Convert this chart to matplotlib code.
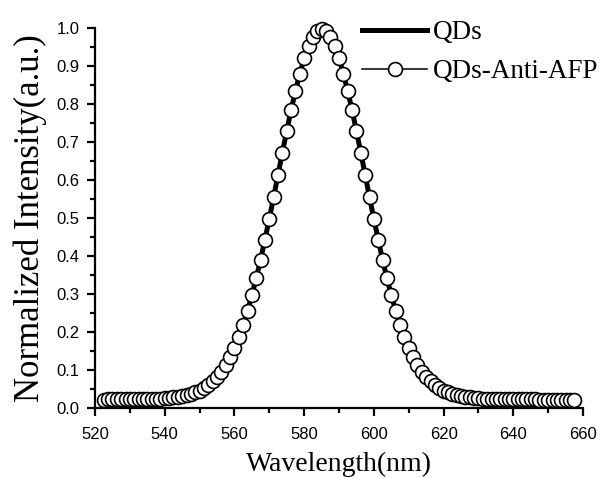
import numpy as np
import matplotlib
matplotlib.use("Agg")
import matplotlib.pyplot as plt
from matplotlib.ticker import MultipleLocator

# Sampling grid of the spectra (nm), 1.25 nm steps
wl_start = 522.5
wl_step = 1.25

# QDs-Anti-AFP normalized intensity
anti_afp = [
    0.022, 0.0224, 0.0225, 0.0226, 0.0228, 0.0229, 0.023, 0.0232, 0.0234, 0.0236,
    0.024, 0.0243, 0.025, 0.025, 0.026, 0.027, 0.028, 0.030, 0.031, 0.034,
    0.037, 0.041, 0.046, 0.052, 0.060, 0.070, 0.082, 0.096, 0.114, 0.134,
    0.158, 0.187, 0.219, 0.256, 0.297, 0.342, 0.390, 0.443, 0.498, 0.555,
    0.614, 0.672, 0.729, 0.784, 0.834, 0.880, 0.920, 0.952, 0.976, 0.992,
    0.998,
    0.992, 0.976, 0.952, 0.920, 0.880, 0.834, 0.784, 0.729, 0.672, 0.614,
    0.555, 0.498, 0.443, 0.390, 0.342, 0.297, 0.256, 0.219, 0.187, 0.158,
    0.134, 0.114, 0.096, 0.082, 0.070, 0.060, 0.052, 0.046, 0.041, 0.037,
    0.034, 0.031, 0.030, 0.028, 0.027, 0.026, 0.025, 0.025, 0.0243, 0.024,
    0.0236, 0.0234, 0.0232, 0.023, 0.0229, 0.0228, 0.0226, 0.0225, 0.0224, 0.0223,
    0.0222, 0.0221, 0.022, 0.022, 0.0219, 0.0217, 0.0216, 0.0215,
]
# QDs spectrum (drawn as a thick line, overlapping the markers)
qds = list(anti_afp)

wavelength = wl_start + wl_step * np.arange(len(anti_afp))

x_ticks = [520, 540, 560, 580, 600, 620, 640, 660]
y_ticks = [0.0, 0.1, 0.2, 0.3, 0.4, 0.5, 0.6, 0.7, 0.8, 0.9, 1.0]

W, H = 607, 478
fig = plt.figure(figsize=(W / 100, H / 100), dpi=100)
ax = fig.add_axes([95 / W, (H - 408) / H, 488 / W, 380 / H])

ax.plot(wavelength, qds, color="black", lw=3.6, label="QDs", zorder=2)
ax.plot(wavelength, anti_afp, color="black", lw=1.1, marker="o", ms=10,
        mfc="white", mec="black", mew=1.2, label="QDs-Anti-AFP",
        clip_on=False, zorder=3)

ax.set_xlim(520, 660)
ax.set_ylim(0.0, 1.0)
ax.set_xticks(x_ticks)
ax.set_yticks(y_ticks)
ax.set_yticklabels([f"{v:.1f}" for v in y_ticks])
ax.xaxis.set_minor_locator(MultipleLocator(10))
ax.yaxis.set_minor_locator(MultipleLocator(0.05))

for s in ["top", "right"]:
    ax.spines[s].set_visible(False)
for s in ["left", "bottom"]:
    ax.spines[s].set_linewidth(1.6)

ax.tick_params(which="major", direction="out", length=6, width=1.6,
               labelsize=12)
ax.tick_params(axis="x", which="major", pad=8)
ax.tick_params(axis="y", which="major", pad=5)
ax.tick_params(which="minor", direction="out", length=3.5, width=1.6)
for lab in ax.get_xticklabels() + ax.get_yticklabels():
    lab.set_fontfamily("Liberation Sans")

ax.set_xlabel("Wavelength(nm)", fontsize=20, fontfamily="Liberation Serif",
              labelpad=7)
ax.set_ylabel("Normalized Intensity(a.u.)", fontsize=25,
              fontfamily="Liberation Serif", labelpad=7)

handles, labels = ax.get_legend_handles_labels()
fig.legend(handles, labels, loc="upper left",
           bbox_to_anchor=(362 / W, 1 - 20 / H), frameon=False,
           borderpad=0, borderaxespad=0,
           prop={"family": "Liberation Serif", "size": 19.5},
           handlelength=2.4, handletextpad=0.22, labelspacing=0.52)

fig.savefig("out.png", dpi=100)
